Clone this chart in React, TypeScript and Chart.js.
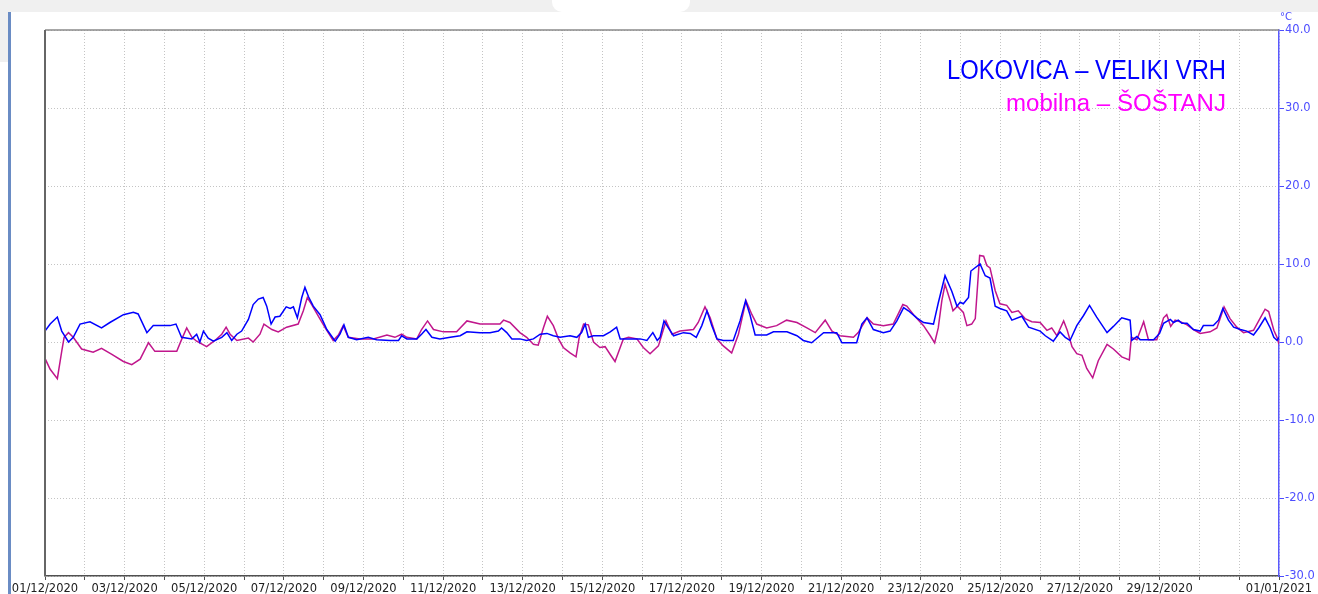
import React, { useEffect, useRef } from "react";
import { Chart, registerables } from "chart.js";

Chart.register(...registerables);

// Day offsets from 01/12/2020 00:00 (x) and temperatures in °C (y)
const lokovicaDays = [
  0.0, 0.13, 0.31, 0.42, 0.59, 0.71, 0.88, 1.13, 1.42, 1.63, 1.97, 2.22, 2.34, 2.56, 2.72, 3.14, 3.29, 3.43, 3.69, 3.81,
  3.89, 3.98, 4.1, 4.23, 4.44, 4.57, 4.69, 4.82, 4.94, 5.11, 5.23, 5.36, 5.48, 5.57, 5.68, 5.78, 5.9, 6.06, 6.16, 6.24,
  6.34, 6.45, 6.53, 6.62, 6.74, 6.91, 7.08, 7.29, 7.41, 7.51, 7.62, 7.83, 8.12, 8.33, 8.67, 8.88, 8.96, 9.09, 9.34, 9.46,
  9.57, 9.72, 9.92, 10.18, 10.43, 10.6, 10.93, 11.18, 11.39, 11.47, 11.6, 11.73, 11.93, 12.1, 12.27, 12.44, 12.61, 12.77, 12.94, 13.19,
  13.36, 13.48, 13.57, 13.65, 13.78, 14.03, 14.2, 14.36, 14.45, 14.61, 14.95, 15.12, 15.27, 15.38, 15.45, 15.55, 15.66, 15.79, 16.04, 16.21,
  16.36, 16.5, 16.63, 16.75, 16.88, 17.04, 17.29, 17.46, 17.6, 17.71, 17.84, 18.13, 18.3, 18.64, 18.89, 19.05, 19.26, 19.56, 19.89, 20.02,
  20.39, 20.52, 20.65, 20.81, 21.06, 21.23, 21.4, 21.57, 21.69, 21.9, 22.07, 22.32, 22.44, 22.61, 22.78, 22.91, 22.99, 23.07, 23.2, 23.26,
  23.49, 23.62, 23.74, 23.87, 23.99, 24.16, 24.29, 24.54, 24.71, 25.0, 25.13, 25.33, 25.5, 25.63, 25.75, 25.92, 26.09, 26.24, 26.42, 26.68,
  26.84, 27.05, 27.26, 27.3, 27.43, 27.51, 27.85, 28.0, 28.1, 28.27, 28.35, 28.47, 28.56, 28.69, 28.85, 29.02, 29.1, 29.35, 29.48, 29.59,
  29.73, 29.86, 30.03, 30.19, 30.36, 30.49, 30.65, 30.78, 30.87, 30.95, 31.0,
];
const lokovicaTemps = [
  1.4, 2.3, 3.2, 1.4, 0.0, 0.6, 2.3, 2.6, 1.8, 2.5, 3.5, 3.8, 3.6, 1.2, 2.1, 2.1, 2.3, 0.6, 0.4, 1.0,
  0.0, 1.4, 0.5, 0.1, 0.6, 1.2, 0.2, 1.0, 1.4, 2.9, 4.8, 5.5, 5.7, 4.6, 2.3, 3.2, 3.3, 4.5, 4.3, 4.5,
  3.1, 5.7, 7.0, 5.8, 4.6, 3.5, 1.6, 0.1, 1.0, 2.2, 0.6, 0.3, 0.6, 0.3, 0.2, 0.2, 0.8, 0.4, 0.4, 1.0,
  1.6, 0.6, 0.4, 0.6, 0.8, 1.3, 1.2, 1.2, 1.4, 1.8, 1.2, 0.4, 0.4, 0.2, 0.4, 1.0, 1.1, 0.8, 0.6, 0.8,
  0.6, 1.2, 2.3, 0.6, 0.8, 0.8, 1.3, 1.9, 0.4, 0.4, 0.4, 0.2, 1.2, 0.2, 0.6, 2.7, 1.8, 0.8, 1.2, 1.1,
  0.6, 2.1, 4.0, 2.1, 0.4, 0.2, 0.2, 2.7, 5.3, 3.5, 0.9, 0.9, 1.3, 1.3, 0.8, 0.2, -0.1, 1.2, 1.2, -0.1,
  -0.1, 2.3, 3.1, 1.6, 1.2, 1.4, 2.7, 4.4, 4.0, 3.1, 2.5, 2.3, 5.0, 8.5, 6.5, 4.6, 5.1, 4.9, 5.7, 9.1,
  10.0, 8.5, 8.2, 4.6, 4.3, 4.0, 2.8, 3.3, 1.9, 1.4, 0.8, 0.1, 1.3, 0.6, 0.2, 2.1, 3.4, 4.7, 3.2, 1.2,
  2.0, 3.1, 2.8, 0.2, 0.7, 0.3, 0.3, 1.1, 2.4, 2.9, 2.5, 2.8, 2.4, 2.4, 1.6, 1.4, 2.1, 2.1, 2.8, 4.3,
  2.8, 1.9, 1.6, 1.4, 0.9, 1.8, 3.1, 1.8, 0.6, 0.2, 0.6,
];

const sostanjDays = [
  0.0, 0.13, 0.31, 0.42, 0.48, 0.59, 0.71, 0.92, 1.21, 1.42, 1.68, 1.97, 2.18, 2.39, 2.6, 2.76, 3.06, 3.31, 3.43, 3.56,
  3.69, 3.81, 4.06, 4.27, 4.44, 4.55, 4.65, 4.82, 5.11, 5.23, 5.4, 5.5, 5.7, 5.86, 6.07, 6.36, 6.49, 6.59, 6.7, 6.87,
  7.04, 7.24, 7.37, 7.49, 7.62, 7.91, 8.25, 8.59, 8.79, 8.96, 9.09, 9.34, 9.46, 9.61, 9.76, 10.01, 10.34, 10.6, 10.93, 11.43,
  11.52, 11.68, 11.93, 12.1, 12.27, 12.39, 12.52, 12.62, 12.77, 12.9, 13.02, 13.19, 13.34, 13.42, 13.53, 13.65, 13.78, 13.94, 14.07, 14.2,
  14.32, 14.45, 14.53, 14.66, 14.87, 15.03, 15.2, 15.41, 15.6, 15.75, 15.95, 16.29, 16.41, 16.58, 16.71, 16.88, 17.04, 17.25, 17.42, 17.61,
  17.76, 17.88, 18.13, 18.38, 18.63, 18.89, 19.14, 19.35, 19.6, 19.77, 19.97, 20.31, 20.43, 20.65, 20.81, 21.06, 21.31, 21.55, 21.65, 21.82,
  22.07, 22.24, 22.35, 22.44, 22.53, 22.61, 22.74, 22.81, 22.92, 23.07, 23.16, 23.28, 23.37, 23.48, 23.58, 23.66, 23.74, 23.87, 23.99, 24.16,
  24.29, 24.45, 24.62, 24.79, 25.0, 25.17, 25.29, 25.42, 25.59, 25.68, 25.8, 25.92, 26.05, 26.17, 26.32, 26.46, 26.68, 26.84, 27.05, 27.24,
  27.29, 27.43, 27.6, 27.72, 27.93, 28.1, 28.18, 28.28, 28.39, 28.52, 28.69, 28.85, 29.02, 29.27, 29.44, 29.62, 29.77, 29.94, 30.11, 30.36,
  30.49, 30.65, 30.74, 30.87, 30.95, 31.0,
];
const sostanjTemps = [
  -2.1, -3.5, -4.7, -1.2, 0.6, 1.2, 0.6, -0.9, -1.3, -0.8, -1.6, -2.5, -2.9, -2.2, -0.1, -1.2, -1.2, -1.2, 0.3, 1.8,
  0.6, 0.1, -0.6, 0.2, 1.0, 1.9, 1.0, 0.2, 0.5, 0.0, 1.0, 2.3, 1.6, 1.3, 1.9, 2.3, 4.0, 5.7, 4.8, 3.3,
  1.8, 0.2, 0.9, 2.1, 0.6, 0.4, 0.4, 0.9, 0.6, 1.0, 0.6, 0.4, 1.6, 2.7, 1.6, 1.3, 1.3, 2.7, 2.3, 2.3,
  2.8, 2.5, 1.2, 0.6, -0.3, -0.4, 1.8, 3.3, 2.1, 0.4, -0.7, -1.4, -1.9, 0.6, 2.3, 2.2, 0.0, -0.7, -0.6, -1.6,
  -2.5, -0.7, 0.4, 0.6, 0.4, -0.7, -1.5, -0.5, 2.7, 1.0, 1.4, 1.6, 2.5, 4.5, 3.1, 0.4, -0.5, -1.4, 1.0, 5.3,
  3.5, 2.3, 1.8, 2.1, 2.8, 2.5, 1.8, 1.2, 2.8, 1.4, 0.8, 0.6, 1.2, 3.1, 2.3, 2.1, 2.3, 4.8, 4.6, 3.5,
  2.1, 0.8, -0.1, 1.8, 5.3, 7.4, 5.3, 4.0, 4.6, 3.8, 2.1, 2.3, 3.0, 11.1, 11.0, 9.8, 9.5, 6.6, 4.9, 4.7,
  3.8, 4.0, 3.0, 2.6, 2.5, 1.5, 1.8, 0.8, 2.7, 1.5, -0.6, -1.5, -1.7, -3.4, -4.6, -2.4, -0.3, -0.9, -1.9, -2.3,
  0.6, 0.3, 2.6, 0.3, 0.3, 3.1, 3.5, 2.0, 2.8, 2.6, 2.2, 1.6, 1.1, 1.3, 1.8, 4.5, 3.0, 1.9, 1.2, 1.5,
  2.7, 4.2, 3.9, 1.5, 0.6, -0.3,
];

const xTickLabels = [
  "01/12/2020", "", "03/12/2020", "", "05/12/2020", "", "07/12/2020", "", "09/12/2020", "", "11/12/2020", "",
  "13/12/2020", "", "15/12/2020", "", "17/12/2020", "", "19/12/2020", "", "21/12/2020", "", "23/12/2020", "",
  "25/12/2020", "", "27/12/2020", "", "29/12/2020", "", "", "01/01/2021",
];

const seriesNames = ["LOKOVICA – VELIKI VRH", "mobilna – ŠOŠTANJ"];
const unitLabel = "°C";

const toPoints = (xs: number[], ys: number[]) => xs.map((x, i) => ({ x, y: ys[i] }));

export default function App() {
  const canvasRef = useRef<HTMLCanvasElement | null>(null);

  useEffect(() => {
    if (!canvasRef.current) return;

    const overlay = {
      id: "overlay",
      afterDraw(chart: any) {
        const { ctx, chartArea } = chart;
        ctx.save();
        // frame: top and left borders
        ctx.strokeStyle = "#8a8a8a";
        ctx.lineWidth = 1.5;
        ctx.beginPath();
        ctx.moveTo(chartArea.left, chartArea.top);
        ctx.lineTo(chartArea.right, chartArea.top);
        ctx.stroke();
        ctx.strokeStyle = "#666666";
        ctx.lineWidth = 2;
        ctx.beginPath();
        ctx.moveTo(chartArea.left, chartArea.top);
        ctx.lineTo(chartArea.left, chartArea.bottom);
        ctx.stroke();

        // unit label
        ctx.fillStyle = "#4d4dff";
        ctx.font = '10px "DejaVu Sans", Verdana, sans-serif';
        ctx.textAlign = "left";
        ctx.textBaseline = "alphabetic";
        ctx.fillText(unitLabel, chartArea.right + 1, 20);

        // series names
        const drawName = (text: string, color: string, size: number, width: number, baseline: number) => {
          ctx.save();
          ctx.font = `${size}px "Liberation Sans", Arial, sans-serif`;
          ctx.fillStyle = color;
          ctx.textAlign = "right";
          ctx.textBaseline = "alphabetic";
          const w = ctx.measureText(text).width;
          ctx.translate(chartArea.right - 53, baseline);
          ctx.scale(width / w, 1);
          ctx.fillText(text, 0, 0);
          ctx.restore();
        };
        drawName(seriesNames[0], "#0000ff", 27, 279, 79);
        drawName(seriesNames[1], "#ff00ff", 23, 220, 111);
        ctx.restore();
      },
    };

    const chart = new Chart(canvasRef.current, {
      type: "line",
      data: {
        datasets: [
          {
            label: seriesNames[0],
            data: toPoints(lokovicaDays, lokovicaTemps),
            borderColor: "#0000ff",
            borderWidth: 1.5,
            pointRadius: 0,
            tension: 0,
            yAxisID: "y",
          },
          {
            label: seriesNames[1],
            data: toPoints(sostanjDays, sostanjTemps),
            borderColor: "#c0168c",
            borderWidth: 1.5,
            pointRadius: 0,
            tension: 0,
            yAxisID: "y",
          },
        ],
      },
      options: {
        responsive: false,
        animation: false,
        events: [],
        layout: { padding: { left: 45, top: 30, right: 0, bottom: 0 } },
        plugins: { legend: { display: false }, tooltip: { enabled: false } },
        scales: {
          x: {
            type: "linear",
            min: 0,
            max: 31,
            afterFit: (s: any) => {
              s.height = 18;
            },
            afterBuildTicks: (s: any) => {
              s.ticks = xTickLabels.map((_, i) => ({ value: i }));
            },
            ticks: {
              autoSkip: false,
              maxRotation: 0,
              minRotation: 0,
              padding: 2,
              color: "#202020",
              font: { family: '"DejaVu Sans", Verdana, sans-serif', size: 11.5 },
              callback: (v: any) => xTickLabels[Math.round(Number(v))] ?? "",
            },
            grid: {
              color: "#c4c4c4",
              lineWidth: 1,
              drawTicks: true,
              tickLength: 4,
              tickColor: "#505050",
              tickWidth: 1,
            },
            border: { display: true, color: "#505050", width: 1.5, dash: [1, 2] },
          },
          y: {
            type: "linear",
            position: "right",
            min: -30,
            max: 40,
            afterFit: (s: any) => {
              s.width = 39;
            },
            ticks: {
              stepSize: 10,
              padding: 1,
              color: "#4d4dff",
              font: { family: '"DejaVu Sans", Verdana, sans-serif', size: 11.5 },
              callback: (v: any) => Number(v).toFixed(1),
            },
            grid: {
              color: "#c4c4c4",
              lineWidth: 1,
              drawTicks: true,
              tickLength: 5,
              tickColor: "#4d4dff",
              tickWidth: 1,
            },
            border: { display: true, color: "#5a5aff", width: 1.5, dash: [1, 2] },
          },
        },
      },
      plugins: [overlay],
    } as any);

    return () => chart.destroy();
  }, []);

  return (
    <div style={{ position: "fixed", left: 0, top: 0, width: 1318, height: 594, background: "#ffffff", overflow: "hidden" }}>
      <div style={{ position: "absolute", left: 0, top: 0, width: 1318, height: 12, background: "#f0f0f0" }} />
      <div
        style={{
          position: "absolute",
          left: 552,
          top: 0,
          width: 138,
          height: 12,
          background: "#ffffff",
          borderRadius: "0 0 10px 10px",
        }}
      />
      <div style={{ position: "absolute", left: 0, top: 12, width: 8, height: 50, background: "#f0f0f0" }} />
      <div style={{ position: "absolute", left: 8, top: 12, width: 3, height: 582, background: "#6a8cc4" }} />
      <canvas ref={canvasRef} width={1318} height={594} style={{ position: "absolute", left: 0, top: 0 }} />
    </div>
  );
}
